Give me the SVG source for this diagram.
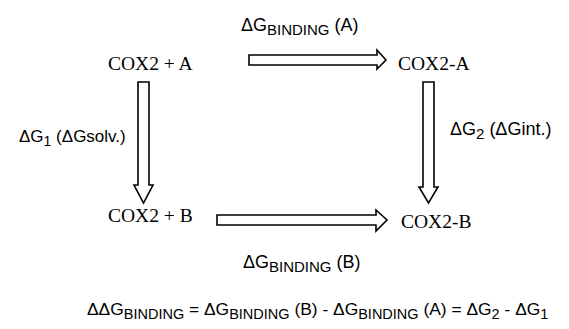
<svg xmlns="http://www.w3.org/2000/svg" width="569" height="329" viewBox="0 0 569 329">
<style>
.serif{font-family:"Liberation Serif","Times New Roman",serif;font-size:19.5px;fill:#000}
.sans{font-family:"Liberation Sans",Arial,sans-serif;font-size:18px;fill:#000}
.sub{font-size:15px}
.eq{font-size:17.4px}
.eq .sub{font-size:14.5px}
.side{font-size:17px}
.side .sub{font-size:14px}
.arr{fill:#fff;stroke:#000;stroke-width:1.6;stroke-linejoin:miter}
</style>
<rect width="569" height="329" fill="#fff"/>
<g id="connectors">
<path class="arr" d="M249,55 H377 V50 L386,60 L377,69 V65 H249 Z"/>
<path class="arr" d="M217,215 H376 V210 L387,220 L376,231 V225 H217 Z"/>
<path class="arr" d="M138,82 H149 V185 H153 L143.5,203 L134,185 H138 Z"/>
<path class="arr" d="M423,82 H434 V187 H438 L428.5,203 L419,187 H423 Z"/>
</g>
<g id="label-binding-a"><text class="sans" x="241" y="31">ΔG<tspan class="sub" dy="4">BINDING</tspan><tspan dy="-4"> (A)</tspan></text></g>
<g id="node-cox2-a-free"><text class="serif" x="108" y="70">COX2 + A</text></g>
<g id="node-cox2-a"><text class="serif" x="398" y="70">COX2-A</text></g>
<g id="label-g1"><text class="sans side" x="19" y="142">ΔG<tspan class="sub" dy="4">1</tspan><tspan dy="-4"> (ΔGsolv.)</tspan></text></g>
<g id="label-g2"><text class="sans" x="450" y="135">ΔG<tspan class="sub" dy="4">2</tspan><tspan dy="-4"> (ΔGint.)</tspan></text></g>
<g id="node-cox2-b-free"><text class="serif" x="108" y="222">COX2 + B</text></g>
<g id="node-cox2-b"><text class="serif" x="401" y="228">COX2-B</text></g>
<g id="label-binding-b"><text class="sans" x="243" y="268">ΔG<tspan class="sub" dy="4">BINDING</tspan><tspan dy="-4"> (B)</tspan></text></g>
<g id="equation"><text class="sans eq" x="87" y="315">ΔΔG<tspan class="sub" dy="4">BINDING</tspan><tspan dy="-4"> = ΔG</tspan><tspan class="sub" dy="4">BINDING</tspan><tspan dy="-4"> (B) - ΔG</tspan><tspan class="sub" dy="4">BINDING</tspan><tspan dy="-4"> (A) = ΔG</tspan><tspan class="sub" dy="4">2</tspan><tspan dy="-4"> - ΔG</tspan><tspan class="sub" dy="4">1</tspan></text></g>
</svg>
